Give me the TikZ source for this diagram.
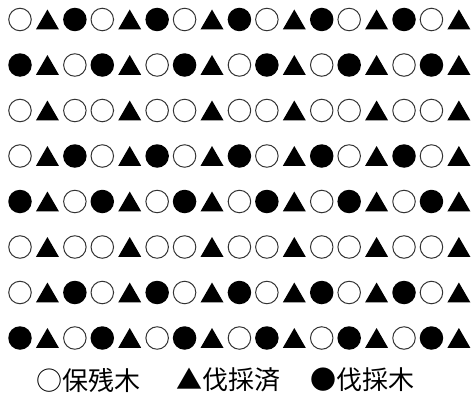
\documentclass[tikz,border=0pt]{standalone}
\usepackage{fontspec}
\newfontfamily\jpfont{Noto Sans CJK JP}
\usetikzlibrary{positioning,shapes.geometric}

\begin{document}
\begin{tikzpicture}[x=1pt,y=-1pt,
  sym-o/.style={circle,draw=black!80,line width=1pt,minimum size=22.5pt,inner sep=0pt},
  sym-f/.style={circle,fill=black,minimum size=23.5pt,inner sep=0pt},
  sym-t/.style={regular polygon,regular polygon sides=3,fill=black,minimum size=26.6pt,inner sep=0pt,yshift=-3.3pt},
  legend/.style={font=\jpfont\fontsize{26}{28}\selectfont,inner sep=0pt}]
  \useasboundingbox (0,0) rectangle (473,396);
  % rows of trees: o = keep, t = cut, f = to fell
  \foreach \row/\a/\b/\c in {1/o/t/f,2/f/t/o,3/o/t/o,4/o/t/f,5/f/t/o,6/o/t/o,7/o/t/f,8/f/t/o}{
    \foreach \col in {0,...,16}{
      \pgfmathtruncatemacro\k{mod(\col,3)}
      \ifcase\k \edef\s{\a}\or \edef\s{\b}\else \edef\s{\c}\fi
      \node[sym-\s] (s-\row-\col) at ({20+27.43*\col},{19.5+45.5*(\row-1)}) {};
    }
  }
  % legend
  \node[legend] (leg-keep) at (88.5,380) {○保残木};
  \node[legend] (leg-cut) at (228,380) {▲伐採済};
  \node[legend] (leg-fell) at (362.5,380) {●伐採木};
\end{tikzpicture}
\end{document}
